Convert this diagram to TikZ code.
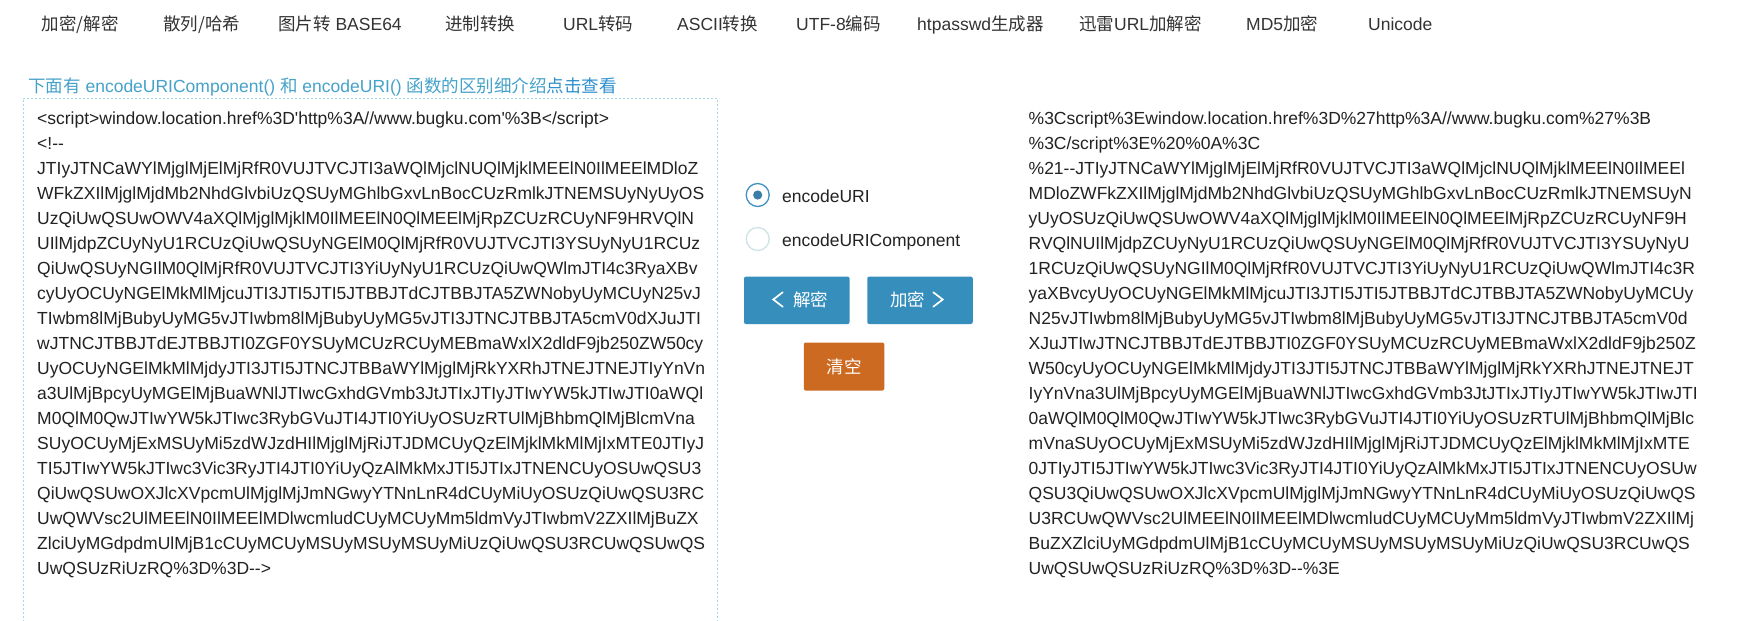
\documentclass[tikz,border=0pt]{standalone}
\usepackage{fontspec}
\setmainfont{Liberation Sans}
\newfontfamily\cjk{Noto Sans CJK SC}
\definecolor{menutext}{HTML}{333333}
\definecolor{codetext}{HTML}{222222}
\definecolor{linkblue}{HTML}{45A2CA}
\definecolor{linkdark}{HTML}{2E8FCF}
\definecolor{boxedge}{HTML}{A2D8E8}
\definecolor{btnblue}{HTML}{368EBD}
\definecolor{btnorange}{HTML}{CC6A22}
\definecolor{radioblue}{HTML}{3F91C2}
\definecolor{radiodot}{HTML}{3D7EA6}
\definecolor{radiolight}{HTML}{CDE3E6}
\newcommand\hy{\mbox{-}}
\newcommand\ap{\textquotesingle}
\begin{document}
\begin{tikzpicture}[x=1pt,y=-1pt,
  menuitem/.style={anchor=base west, inner sep=0pt, text=menutext, font=\fontsize{17.5}{21}\selectfont},
  codeline/.style={anchor=base west, inner sep=0pt, text=codetext, font=\fontsize{17.5}{25}\selectfont},
  linktext/.style={anchor=base west, inner sep=0pt, text=linkblue, font=\fontsize{17.5}{21}\selectfont},
  radiolabel/.style={anchor=base west, inner sep=0pt, text=codetext, font=\fontsize{17.5}{21}\selectfont},
  btnbox/.style={rectangle, rounded corners=2pt, inner sep=0pt, minimum width=105.5pt, minimum height=47.5pt},
  btntext/.style={anchor=base, inner sep=0pt, text=white, font=\fontsize{17.5}{21}\selectfont\cjk},
  chevron/.style={draw=white, line width=1.7pt, line cap=round, line join=miter},
  radioring/.style={circle, inner sep=0pt, minimum size=23pt, line width=1.3pt}]
\useasboundingbox[fill=white] (0,0) rectangle (1757,621);

% top menu
\node[menuitem] (m1) at (41.5,30) {{\cjk 加密/解密}};
\node[menuitem] (m2) at (163,30) {{\cjk 散列/哈希}};
\node[menuitem] (m3) at (278,30) {{\cjk 图片转} BASE64};
\node[menuitem] (m4) at (445,30) {{\cjk 进制转换}};
\node[menuitem] (m5) at (563,30) {URL{\cjk 转码}};
\node[menuitem] (m6) at (677,30) {ASCII{\cjk 转换}};
\node[menuitem] (m7) at (796,30) {UTF-8{\cjk 编码}};
\node[menuitem] (m8) at (917,30) {htpasswd{\cjk 生成器}};
\node[menuitem] (m9) at (1079,30) {{\cjk 迅雷}URL{\cjk 加解密}};
\node[menuitem] (m10) at (1246,30) {MD5{\cjk 加密}};
\node[menuitem] (m11) at (1368,30) {Unicode};

% link line
\node[linktext] (hint) at (28,92.5) {{\cjk 下面有} encodeURIComponent() {\cjk 和} encodeURI() {\cjk 函数的区别细介绍}\textcolor{linkdark}{\cjk 点击查看}};

% left box
\draw[boxedge, line width=1pt, dash pattern=on 2pt off 2pt] (23,630) -- (23,98) -- (717,98) -- (717,630);

% left text
\foreach \t [count=\i] in {
{<script>window.location.href\%3D\ap http\%3A//www.bugku.com\ap\%3B</script>},
{<!\hy\hy},
{JTIyJTNCaWYlMjglMjElMjRfR0VUJTVCJTI3aWQlMjclNUQlMjklMEElN0IlMEElMDloZ},
{WFkZXIlMjglMjdMb2NhdGlvbiUzQSUyMGhlbGxvLnBocCUzRmlkJTNEMSUyNyUyOS},
{UzQiUwQSUwOWV4aXQlMjglMjklM0IlMEElN0QlMEElMjRpZCUzRCUyNF9HRVQlN},
{UIlMjdpZCUyNyU1RCUzQiUwQSUyNGElM0QlMjRfR0VUJTVCJTI3YSUyNyU1RCUz},
{QiUwQSUyNGIlM0QlMjRfR0VUJTVCJTI3YiUyNyU1RCUzQiUwQWlmJTI4c3RyaXBv},
{cyUyOCUyNGElMkMlMjcuJTI3JTI5JTI5JTBBJTdCJTBBJTA5ZWNobyUyMCUyN25vJ},
{TIwbm8lMjBubyUyMG5vJTIwbm8lMjBubyUyMG5vJTI3JTNCJTBBJTA5cmV0dXJuJTI},
{wJTNCJTBBJTdEJTBBJTI0ZGF0YSUyMCUzRCUyMEBmaWxlX2dldF9jb250ZW50cy},
{UyOCUyNGElMkMlMjdyJTI3JTI5JTNCJTBBaWYlMjglMjRkYXRhJTNEJTNEJTIyYnVn},
{a3UlMjBpcyUyMGElMjBuaWNlJTIwcGxhdGVmb3JtJTIxJTIyJTIwYW5kJTIwJTI0aWQl},
{M0QlM0QwJTIwYW5kJTIwc3RybGVuJTI4JTI0YiUyOSUzRTUlMjBhbmQlMjBlcmVna},
{SUyOCUyMjExMSUyMi5zdWJzdHIlMjglMjRiJTJDMCUyQzElMjklMkMlMjIxMTE0JTIyJ},
{TI5JTIwYW5kJTIwc3Vic3RyJTI4JTI0YiUyQzAlMkMxJTI5JTIxJTNENCUyOSUwQSU3},
{QiUwQSUwOXJlcXVpcmUlMjglMjJmNGwyYTNnLnR4dCUyMiUyOSUzQiUwQSU3RC},
{UwQWVsc2UlMEElN0IlMEElMDlwcmludCUyMCUyMm5ldmVyJTIwbmV2ZXIlMjBuZX},
{ZlciUyMGdpdmUlMjB1cCUyMCUyMSUyMSUyMSUyMiUzQiUwQSU3RCUwQSUwQS},
{UwQSUzRiUzRQ\%3D\%3D\hy\hy>}}
{\node[codeline] (L\i) at (37,{124+25*(\i-1)}) {\t};}

% right text
\foreach \t [count=\i] in {
{\%3Cscript\%3Ewindow.location.href\%3D\%27http\%3A//www.bugku.com\%27\%3B},
{\%3C/script\%3E\%20\%0A\%3C},
{\%21\hy\hy JTIyJTNCaWYlMjglMjElMjRfR0VUJTVCJTI3aWQlMjclNUQlMjklMEElN0IlMEEl},
{MDloZWFkZXIlMjglMjdMb2NhdGlvbiUzQSUyMGhlbGxvLnBocCUzRmlkJTNEMSUyN},
{yUyOSUzQiUwQSUwOWV4aXQlMjglMjklM0IlMEElN0QlMEElMjRpZCUzRCUyNF9H},
{RVQlNUIlMjdpZCUyNyU1RCUzQiUwQSUyNGElM0QlMjRfR0VUJTVCJTI3YSUyNyU},
{1RCUzQiUwQSUyNGIlM0QlMjRfR0VUJTVCJTI3YiUyNyU1RCUzQiUwQWlmJTI4c3R},
{yaXBvcyUyOCUyNGElMkMlMjcuJTI3JTI5JTI5JTBBJTdCJTBBJTA5ZWNobyUyMCUy},
{N25vJTIwbm8lMjBubyUyMG5vJTIwbm8lMjBubyUyMG5vJTI3JTNCJTBBJTA5cmV0d},
{XJuJTIwJTNCJTBBJTdEJTBBJTI0ZGF0YSUyMCUzRCUyMEBmaWxlX2dldF9jb250Z},
{W50cyUyOCUyNGElMkMlMjdyJTI3JTI5JTNCJTBBaWYlMjglMjRkYXRhJTNEJTNEJT},
{IyYnVna3UlMjBpcyUyMGElMjBuaWNlJTIwcGxhdGVmb3JtJTIxJTIyJTIwYW5kJTIwJTI},
{0aWQlM0QlM0QwJTIwYW5kJTIwc3RybGVuJTI4JTI0YiUyOSUzRTUlMjBhbmQlMjBlc},
{mVnaSUyOCUyMjExMSUyMi5zdWJzdHIlMjglMjRiJTJDMCUyQzElMjklMkMlMjIxMTE},
{0JTIyJTI5JTIwYW5kJTIwc3Vic3RyJTI4JTI0YiUyQzAlMkMxJTI5JTIxJTNENCUyOSUw},
{QSU3QiUwQSUwOXJlcXVpcmUlMjglMjJmNGwyYTNnLnR4dCUyMiUyOSUzQiUwQS},
{U3RCUwQWVsc2UlMEElN0IlMEElMDlwcmludCUyMCUyMm5ldmVyJTIwbmV2ZXIlMj},
{BuZXZlciUyMGdpdmUlMjB1cCUyMCUyMSUyMSUyMSUyMiUzQiUwQSU3RCUwQS},
{UwQSUwQSUzRiUzRQ\%3D\%3D\hy\hy\%3E}}
{\node[codeline] (R\i) at (1028.5,{124+25*(\i-1)}) {\t};}

% radio buttons
\node[radioring, draw=radioblue] (r1) at (757.7,195) {};
\fill[radiodot] (r1.center) circle (4.6);
\node[radiolabel] (r1lab) at (782,202.5) {encodeURI};
\node[radioring, draw=radiolight] (r2) at (757.7,239) {};
\node[radiolabel] (r2lab) at (782,246) {encodeURIComponent};

% buttons
\node[btnbox, fill=btnblue] (dec) at (796.8,300.3) {};
\node[btntext] (dectxt) at (810.5,306.8) {解密};
\draw[chevron] (782.7,292.3) -- (773.3,299.5) -- (782.7,306.7);
\node[btnbox, fill=btnblue] (enc) at (920,300.3) {};
\node[btntext] (enctxt) at (907.5,306.8) {加密};
\draw[chevron] (933.3,292.3) -- (942.7,299.5) -- (933.3,306.7);
\node[btnbox, fill=btnorange, minimum width=80.5pt, minimum height=48pt] (clr) at (844,366.5) {};
\node[btntext] (clrtxt) at (844,373) {清空};
\end{tikzpicture}
\end{document}
